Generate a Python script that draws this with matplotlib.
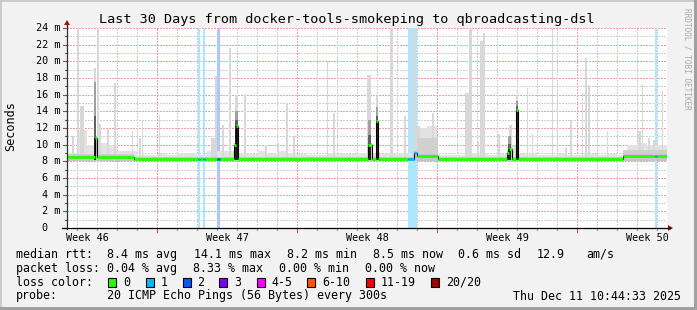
import matplotlib.pyplot as plt
from matplotlib.patches import Rectangle, Polygon
from matplotlib.lines import Line2D
from matplotlib.colors import to_rgb

W, H = 697, 310

# light smoke ceiling, one value per half day (ms)
smoke_top = [9.0, 11.8, 10.0, 10.2, 10.0, 9.3, 9.2, 8.8, 8.8, 8.9,
             8.8, 9.0, 9.0, 8.8, 9.3, 9.2, 9.2, 9.0, 8.9, 9.2,
             8.9, 9.2, 9.0, 8.9, 8.8, 8.8, 9.0, 8.9, 8.9, 9.0,
             9.0, 8.9, 9.0, 9.0, 9.0, 12.0, 12.2, 8.8, 8.8, 8.8,
             9.0, 9.0, 8.8, 8.9, 9.8, 8.9, 8.9, 8.8, 8.8, 8.9,
             8.8, 8.8, 8.9, 8.8, 8.9, 8.8, 10.0, 10.2, 10.0, 10.0]

# darker smoke near the median: start day, end day, top (ms)
mid_start = [0.0, 17.5, 27.8]
mid_end = [3.35, 18.55, 30.0]
mid_top = [8.9, 10.8, 9.4]

# single slow pings: centre day, top (ms), width (days)
spike_day = [0.30, 0.55, 0.75, 1.40, 1.53, 1.60, 2.05, 2.40, 3.25, 3.65,
             3.75, 4.60, 7.30, 7.45, 7.80, 8.15, 8.45, 8.90, 9.95, 10.55,
             11.00, 11.35, 13.03, 13.35, 15.10, 15.50, 16.20, 16.90, 17.30, 17.55,
             18.28, 20.05, 20.15, 20.55, 20.72, 20.87, 21.60, 22.15, 22.50, 23.02,
             23.27, 24.28, 24.52, 24.95, 25.22, 25.78, 25.93, 26.10, 26.53, 27.03,
             28.62, 28.78, 29.12, 29.35, 29.78]
spike_top = [11.0, 24.0, 14.6, 19.2, 24.0, 12.5, 12.0, 17.4, 11.6, 10.8,
             13.0, 13.6, 10.8, 18.2, 12.4, 21.6, 16.0, 16.1, 10.0, 10.2,
             15.0, 11.1, 20.0, 13.8, 18.4, 15.8, 24.0, 13.4, 24.0, 12.2,
             13.8, 16.2, 24.0, 10.3, 22.5, 23.4, 11.3, 12.4, 16.0, 16.8,
             11.3, 24.0, 16.5, 9.6, 13.0, 16.2, 20.4, 17.2, 15.0, 11.6,
             11.6, 17.3, 10.8, 10.6, 16.5]
spike_w = [0.1, 0.1, 0.2, 0.1, 0.1, 0.15, 0.1, 0.1, 0.05, 0.1,
           0.05, 0.05, 0.2, 0.1, 0.1, 0.1, 0.15, 0.1, 0.1, 0.05,
           0.1, 0.1, 0.05, 0.1, 0.2, 0.1, 0.15, 0.1, 0.15, 0.2,
           0.1, 0.3, 0.15, 0.1, 0.12, 0.1, 0.1, 0.15, 0.1, 0.08,
           0.05, 0.05, 0.05, 0.1, 0.1, 0.05, 0.1, 0.1, 0.05, 0.05,
           0.15, 0.05, 0.1, 0.1, 0.05]

# columns where the median itself went up
core_day = [1.42, 8.45, 15.12, 15.50, 22.12, 22.50]
core_w = [0.1, 0.15, 0.15, 0.1, 0.12, 0.1]
core_med = [10.8, 12.2, 10.0, 12.8, 9.5, 14.2]
core_top = [17.5, 14.0, 13.0, 14.5, 11.0, 15.2]

# median rtt steps: start day, value (ms), lost pings level
med_day = [0.0, 1.40, 1.50, 3.35, 6.55, 6.65, 6.80, 6.90, 7.50, 7.65,
           8.35, 8.45, 8.55, 15.05, 15.25, 15.45, 15.55, 17.05, 17.35, 17.5,
           18.55, 22.0, 22.1, 22.25, 22.45, 22.55, 27.8, 29.4, 29.5]
med_val = [8.55, 10.8, 8.55, 8.25, 8.25, 8.25, 8.25, 8.25, 8.25, 8.25,
           10.0, 12.2, 8.25, 10.0, 8.25, 12.8, 8.25, 8.25, 9.0, 8.65,
           8.25, 9.0, 9.5, 8.25, 14.2, 8.25, 8.65, 8.65, 8.65]
med_loss = [0, 0, 0, 0, 1, 0, 1, 0, 2, 0,
            0, 0, 0, 0, 0, 0, 0, 1, 1, 0,
            0, 0, 0, 0, 0, 0, 0, 1, 0]

# packet loss bars
loss_start = [6.55, 6.80, 7.50, 17.05, 29.40]
loss_end = [6.65, 6.90, 7.65, 17.50, 29.50]
loss_lvl = [1, 1, 2, 1, 1]

loss_colors = ['#26ff00', '#00b8ff', '#0059ff', '#7e00ff',
               '#ff00ff', '#ff5500', '#ff0000', '#a10000']
loss_labels = ['0', '1', '2', '3', '4-5', '6-10', '11-19', '20/20']
loss_box_x = [108, 146, 183, 219, 257, 307, 366, 431]
loss_text_x = [123, 161, 197, 234, 271, 322, 381, 446]

week_labels = ['Week 46', 'Week 47', 'Week 48', 'Week 49', 'Week 50']
week_pos = [1.03, 8.03, 15.03, 22.03, 29.03]

mono = 'DejaVu Sans Mono'
plt.rcParams['font.family'] = mono

fig = plt.figure(figsize=(W / 100, H / 100), dpi=100, facecolor='#f2f2f2')


def P(x, y):
    return x / W, 1 - y / H


ax = fig.add_axes([67 / W, 1 - 228 / H, 600 / W, 200 / H])
ax.set_xlim(0, 30)
ax.set_ylim(0, 24)
ax.set_facecolor('white')
for s in ax.spines.values():
    s.set_visible(False)
ax.set_xticks([])
ax.set_yticks([])

# grid, dotted
gkw = dict(lw=0.72, dashes=(2, 2), antialiased=False, zorder=1)
minor_c = '#cfcfcf'
major_c = '#f0a0a0'
for v in range(1, 25):
    ax.axhline(v, color=minor_c if v % 2 else major_c, **gkw)
for k in range(30):
    d = 0.5 + k
    ax.axvline(d, color=major_c if (d - 4.5) % 7 == 0 else minor_c, **gkw)

# loss bars
for s, e, l in zip(loss_start, loss_end, loss_lvl):
    r, g, b = to_rgb(loss_colors[l])
    a = 0.33
    ax.axvspan(s, e, color=(1 - a + a * r, 1 - a + a * g, 1 - a + a * b),
               lw=0, zorder=2)

# smoke
bins = [i * 0.5 for i in range(60)]
ax.bar(bins, [t - 8.0 for t in smoke_top], width=0.5, bottom=8.0,
       align='edge', color='#e2e2e2', lw=0, zorder=3)
ax.bar(spike_day, [t - 8.0 for t in spike_top], width=spike_w, bottom=8.0,
       color='#d8d8d8', lw=0, zorder=3)
for s, e, t in zip(mid_start, mid_end, mid_top):
    ax.fill_between([s, e], 8.0, t, color='#d0d0d0', lw=0, zorder=3)

ends = med_day[1:] + [30.0]
ax.fill_between(med_day + [30.0], 8.0, [v + 0.25 for v in med_val] + [med_val[-1] + 0.25],
                step='post', color='#c6c6c6', lw=0, zorder=3)

for d, w, m, t in zip(core_day, core_w, core_med, core_top):
    ax.bar(d, t - 8.2, width=w, bottom=8.2, color='#a0a0a0', lw=0, zorder=4)
    ax.bar(d, (m + (t - m) * 0.4) - 8.2, width=w, bottom=8.2, color='#606060', lw=0, zorder=4)
    ax.bar(d, m - 8.2, width=w, bottom=8.2, color='#222222', lw=0, zorder=4)

# median line
ax.step(med_day + [30.0], med_val + [med_val[-1]], where='post',
        color='black', lw=0.8, zorder=5)
ax.hlines(med_val, med_day, ends, colors=[loss_colors[l] for l in med_loss],
          lw=2.0, zorder=6)

# axis ticks
xt = ax.get_xaxis_transform()
for k in range(30):
    d = 0.5 + k
    major = (d - 4.5) % 7 == 0
    ln = 4 if major else 2
    ax.plot([d, d], [0, -ln / 200], transform=xt, clip_on=False,
            color='#d05050' if major else '#909090', lw=0.8)
yt = ax.get_yaxis_transform()
for v in range(0, 25):
    ln = 4 if v % 2 == 0 else 2
    ax.plot([0, -ln / 600], [v, v], transform=yt, clip_on=False,
            color='#606060', lw=0.8)

# tick labels
for v in range(0, 25, 2):
    lab = f'{v} m' if v else '0  '
    x, y = P(60.5, 228 - v * 200 / 24)
    fig.text(x, y, lab, ha='right', va='center', fontsize=7.3, family=mono)
for lab, d in zip(week_labels, week_pos):
    x, y = P(67 + d * 20, 238)
    fig.text(x, y, lab, ha='center', va='center', fontsize=7.3, family=mono)

# axes lines and arrows
fig.add_artist(Line2D([67 / W, 67 / W], [1 - 229 / H, 1 - 24 / H],
                      transform=fig.transFigure, color='#303030', lw=0.9))
fig.add_artist(Line2D([62 / W, 670 / W], [1 - 228 / H, 1 - 228 / H],
                      transform=fig.transFigure, color='black', lw=0.9))
fig.add_artist(Polygon([P(64, 25), P(70, 25), P(67, 20)], closed=True,
                       transform=fig.transFigure, color='#a01010', lw=0))
fig.add_artist(Polygon([P(668, 225), P(668, 231), P(673, 228)], closed=True,
                       transform=fig.transFigure, color='#a01010', lw=0))

# frame
fig.add_artist(Rectangle((0, 1 - 2 / H), 1, 2 / H, transform=fig.transFigure,
                         color='#cbcbcb', lw=0))
fig.add_artist(Rectangle((0, 0), 2 / W, 1, transform=fig.transFigure,
                         color='#cbcbcb', lw=0))
fig.add_artist(Rectangle((0, 0), 1, 3 / H, transform=fig.transFigure,
                         color='#a0a0a0', lw=0))
fig.add_artist(Rectangle((1 - 3 / W, 0), 3 / W, 1, transform=fig.transFigure,
                         color='#a0a0a0', lw=0))

# titles
x, y = P(347, 19.3)
fig.text(x, y, 'Last 30 Days from docker-tools-smokeping to qbroadcasting-dsl',
         ha='center', va='center', fontsize=9.7, family=mono)
x, y = P(10.5, 126)
fig.text(x, y, 'Seconds', rotation=90, ha='center', va='center',
         fontsize=8.5, family=mono)
x, y = P(687.5, 59)
fig.text(x, y, 'RRDTOOL / TOBI OETIKER', rotation=-90, ha='center', va='center',
         fontsize=5.6, family=mono, color='#a8a8a8')

# legend
lf = 8.4
rows = [
    (254.3, [(16, 'median rtt:'), (107, '8.4 ms avg'), (194, '14.1 ms max'),
             (287, '8.2 ms min'), (373, '8.5 ms now'), (458, '0.6 ms sd'),
             (537, '12.9'), (586, 'am/s')]),
    (268.3, [(16, 'packet loss:'), (107, '0.04 % avg'), (193, '8.33 % max'),
             (279, '0.00 % min'), (365, '0.00 % now')]),
    (282.3, [(16, 'loss color:')]),
    (296.0, [(16, 'probe:'), (107, '20 ICMP Echo Pings (56 Bytes) every 300s'),
             (513, 'Thu Dec 11 10:44:33 2025')]),
]
for yy, items in rows:
    for xx, txt in items:
        x, y = P(xx, yy)
        fig.text(x, y, txt, ha='left', va='center', fontsize=lf, family=mono)

for c, lab, bx, tx in zip(loss_colors, loss_labels, loss_box_x, loss_text_x):
    x0, y0 = P(bx, 286.7)
    fig.add_artist(Rectangle((x0, y0), 8.3 / W, 9 / H, transform=fig.transFigure,
                             facecolor=c, edgecolor='black', lw=0.8))
    x, y = P(tx, 282.3)
    fig.text(x, y, lab, ha='left', va='center', fontsize=lf, family=mono)

fig.savefig('out.png', dpi=100, facecolor=fig.get_facecolor())
